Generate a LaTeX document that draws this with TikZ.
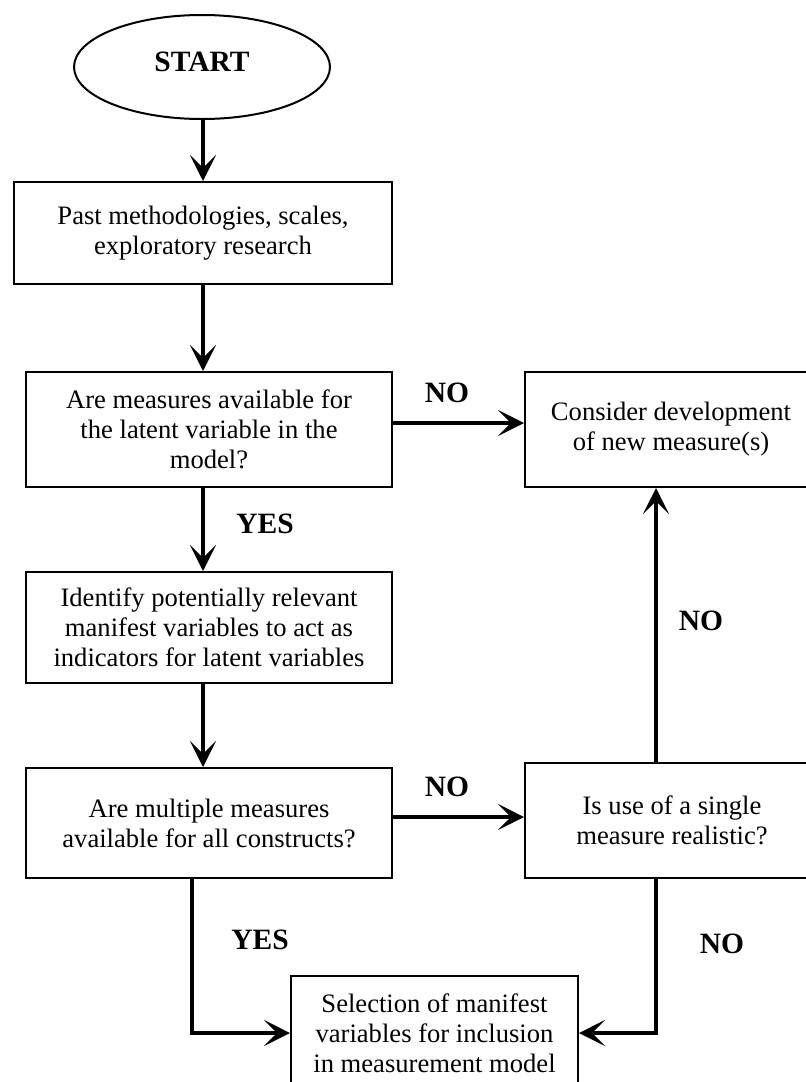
\documentclass[tikz,border=0pt]{standalone}
\usepackage{fontspec}
\setmainfont{Liberation Serif}
\usetikzlibrary{arrows.meta,shapes.geometric}
\begin{document}
\begin{tikzpicture}[x=1pt,y=-1pt,
  box/.style={draw, line width=2pt, inner sep=0pt, align=center,
    font=\fontsize{26.6}{30}\selectfont},
  flow/.style={line width=3.5pt, -{Stealth[length=26pt,width=26pt,inset=13pt]}},
  tag/.style={font=\fontsize{29.5}{32}\selectfont\bfseries, inner sep=0pt}]
\useasboundingbox (0,0) rectangle (806,1082);

% process steps
\node[ellipse, draw, line width=2pt, minimum width=256pt, minimum height=104pt,
  inner sep=0pt, font=\fontsize{29.5}{32}\selectfont\bfseries]
  (start) at (202,67) {\raisebox{10pt}{START}};
\node[box, minimum width=378pt, minimum height=102pt] (b1) at (203,233)
  {Past methodologies, scales,\\exploratory research};
\node[box, minimum width=366pt, minimum height=115pt] (b2) at (209,429.5)
  {Are measures available for\\the latent variable in the\\model?};
\node[box, minimum width=292pt, minimum height=115pt] (b3) at (671,429.5)
  {Consider development\\of new measure(s)};
\node[box, minimum width=366pt, minimum height=111pt] (b4) at (209,627.5)
  {Identify potentially relevant\\manifest variables to act as\\indicators for latent variables};
\node[box, minimum width=366pt, minimum height=110pt] (b5) at (209,823)
  {Are multiple measures\\available for all constructs?};
\node[box, minimum width=294pt, minimum height=115pt] (b6) at (672,820.5)
  {Is use of a single\\measure realistic?};
\node[box, minimum width=287pt, minimum height=114pt] (b7) at (434.5,1033)
  {Selection of manifest\\variables for inclusion\\in measurement model};

% vertical guide lines for the connectors
\coordinate (spine) at (203,0);
\coordinate (lx) at (192,0);
\coordinate (rx) at (656,0);

% connectors
\draw[flow] (spine |- start.south) -- (spine |- b1.north);
\draw[flow] (spine |- b1.south) -- (spine |- b2.north);
\draw[flow] (b2.east |- 0,423) -- (b3.west |- 0,423);
\draw[flow] (spine |- b2.south) -- (spine |- b4.north);
\draw[flow] (spine |- b4.south) -- (spine |- b5.north);
\draw[flow] (b5.east |- 0,817) -- (b6.west |- 0,817);
\draw[flow] (rx |- b6.north) -- (rx |- b3.south);
\draw[flow] (rx |- b6.south) |- (b7.east);
\draw[flow] (lx |- b5.south) |- (b7.west);

% branch labels
\node[tag] (no1) at (447,393) {NO};
\node[tag] (yes1) at (265,524) {YES};
\node[tag] (no2) at (447,787) {NO};
\node[tag] (yes2) at (260,940) {YES};
\node[tag] (no3) at (701,621) {NO};
\node[tag] (no4) at (722,944) {NO};
\end{tikzpicture}
\end{document}
